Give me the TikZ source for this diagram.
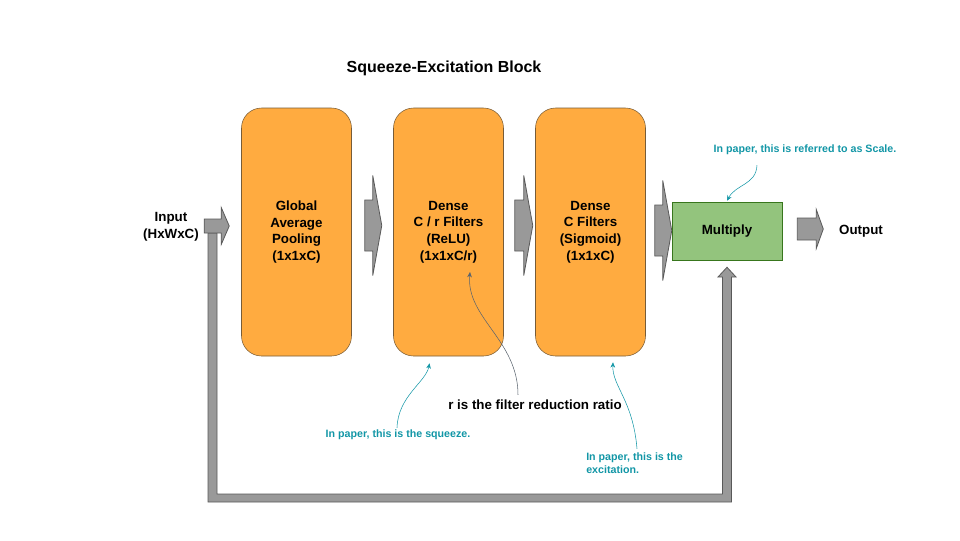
\documentclass[tikz,border=0pt]{standalone}
\usepackage{fontspec}
\setmainfont{Liberation Sans}
\usetikzlibrary{positioning,calc,arrows.meta}

\definecolor{blockorange}{RGB}{255,171,64}
\definecolor{blockedge}{RGB}{120,92,55}
\definecolor{multgreen}{RGB}{147,196,125}
\definecolor{multedge}{RGB}{56,118,29}
\definecolor{fatgray}{RGB}{153,153,153}
\definecolor{fatedge}{RGB}{89,89,89}
\definecolor{noteteal}{RGB}{18,150,166}
\definecolor{ratiogray}{RGB}{90,100,110}

\tikzset{
  layer/.style={draw=blockedge, fill=blockorange, rounded corners=15pt,
    minimum width=82.5pt, minimum height=186pt, align=center,
    font=\bfseries\fontsize{10}{12.4}\selectfont},
  scalebox/.style={draw=multedge, fill=multgreen, minimum width=82.5pt,
    minimum height=43.5pt, font=\bfseries\fontsize{10}{12.4}\selectfont},
  label text/.style={align=center, inner sep=0pt,
    font=\bfseries\fontsize{10}{12.4}\selectfont},
  note/.style={text=noteteal, inner sep=0pt, align=left,
    font=\bfseries\fontsize{8}{9.8}\selectfont},
  notearrow/.style={draw=noteteal, thin, -{Stealth[length=4pt,width=3.5pt]}},
  fatfill/.style={fill=fatgray, draw=fatedge, line width=0.6pt},
  pics/fatarrow/.style n args={4}{code={
    \filldraw[fatfill] (0,-#2) -- ({#1-#4},-#2) -- ({#1-#4},-#3) -- (#1,0)
      -- ({#1-#4},#3) -- ({#1-#4},#2) -- (0,#2) -- cycle;
  }},
}

\begin{document}
\begin{tikzpicture}[x=0.75pt, y=-0.75pt]
  \useasboundingbox (0,0) rectangle (960,540);

  \node[inner sep=0pt, font=\bfseries\fontsize{12}{14}\selectfont] (title) at (444,68) {Squeeze-Excitation Block};

  % blocks
  \node[layer] (pool) at (296.5,232) {Global\\Average\\Pooling\\(1x1xC)};
  \node[layer] (squeeze) at (448.5,232) {Dense\\C / r Filters\\(ReLU)\\(1x1xC/r)};
  \node[layer] (excite) at (590.5,232) {Dense\\C Filters\\(Sigmoid)\\(1x1xC)};
  \node[scalebox] (mult) at (727,231) {Multiply};

  \node[label text] (input) at (171,227) {Input\\(HxWxC)};
  \node[label text] (output) at (861,231) {Output};

  % skip connection under everything
  \filldraw[fatfill] (208,233) -- (208,502) -- (731.5,502) -- (731.5,277) -- (736,277)
    -- ($(mult.south)+(0,7)$) -- (718,277) -- (722.5,277) -- (722.5,494)
    -- (217,494) -- (217,233) -- cycle;

  % fat arrows
  \pic at ($(pool.west)+(-37,-6)$) {fatarrow={25}{7}{18.5}{8}};
  \pic at ($(pool.east)+(13,-6.5)$) {fatarrow={17}{25.5}{50}{9}};
  \pic at ($(squeeze.east)+(11,-6.5)$) {fatarrow={18}{25.5}{50}{9}};
  \pic at ($(excite.east)+(9,-1.5)$) {fatarrow={17}{25.5}{50}{9}};
  \pic at ($(mult.east)+(15,-2)$) {fatarrow={26}{11}{19.5}{7}};

  % notes
  \node[note] (scalenote) at (805,150) {In paper, this is referred to as Scale.};
  \node[note] (squeezenote) at (398,435) {In paper, this is the squeeze.};
  \node[note, anchor=west] (excitenote) at (586,463.5) {In paper, this is the\\excitation.};
  \node[inner sep=0pt, font=\bfseries\fontsize{10}{12}\selectfont] (ratio) at (535,405) {r is the filter reduction ratio};

  \draw[notearrow] ($(scalenote.south)+(-48,10)$) .. controls (756,185) and (736,184) .. ($(mult.north)+(0,-1)$);
  \draw[notearrow] ($(squeezenote.north)+(-1,-2)$) .. controls (398,396) and (426,382) .. ($(squeeze.south)+(-19,7)$);
  \draw[notearrow] ($(excitenote.north west)+(51,-4)$) .. controls (633,400) and (612,386) .. ($(excite.south)+(22.5,6)$);
  \draw[ratiogray, thin, -{Stealth[length=4pt,width=3.5pt]}] ($(ratio.north)+(-17,-5)$) .. controls (518,340) and (466,318) .. (470,272);
\end{tikzpicture}
\end{document}
